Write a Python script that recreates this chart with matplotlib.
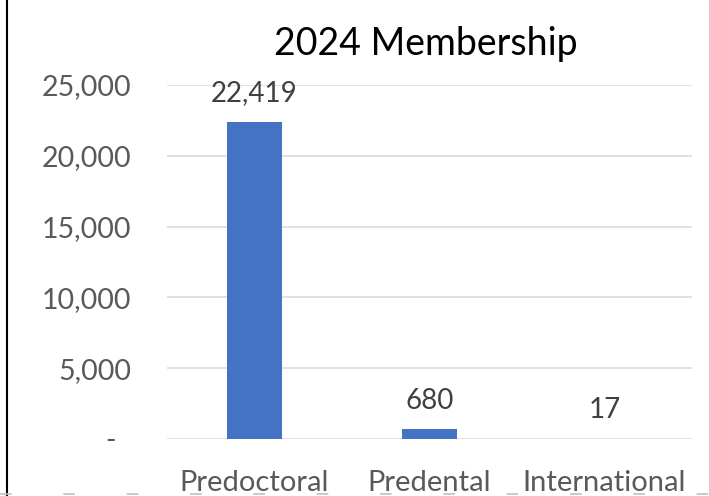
import matplotlib.pyplot as plt
from matplotlib.lines import Line2D
from matplotlib.ticker import FuncFormatter

categories = ["Predoctoral", "Predental", "International"]
members = [22419, 680, 17]
y_ticks = [0, 5000, 10000, 15000, 20000, 25000]

plt.rcParams["font.family"] = ["Lato", "DejaVu Sans"]


def fmt(v, pos):
    if v == 0:
        return "-  "
    return f"{int(v):,}"


def main():
    fig = plt.figure(figsize=(7.09, 4.96), dpi=100)
    ax = fig.add_axes([0.2355, 0.115, 0.7405, 0.7136])

    x = range(len(categories))
    ax.bar(x, members, width=0.31, color="#4472C4", zorder=3)

    for xi, v in zip(x, members):
        ax.annotate(f"{v:,}", (xi, v), xytext=(0, 11), textcoords="offset points",
                    ha="center", va="bottom", fontsize=20, color="#404040")

    ax.set_xlim(-0.5, 2.5)
    ax.set_ylim(0, 25000)
    ax.set_yticks(y_ticks)
    ax.yaxis.set_major_formatter(FuncFormatter(fmt))
    ax.set_xticks(list(x))
    ax.set_xticklabels(categories)
    ax.tick_params(axis="y", length=0, pad=26, labelsize=20.5, labelcolor="#595959")
    ax.tick_params(axis="x", length=0, pad=22, labelsize=21, labelcolor="#595959")
    ax.grid(axis="y", color="#D9D9D9", linewidth=1.1, zorder=0)
    for s in ax.spines.values():
        s.set_visible(False)

    fig.text(0.6, 0.912, "2024 Membership", ha="center", va="center",
             fontsize=27, color="#000000")

    # screenshot edges
    fig.add_artist(Line2D([0.0105, 0.0105], [0, 1], color="black", linewidth=1.5))
    fig.add_artist(Line2D([0, 1], [0.004, 0.004], color="#B8C2D0", linewidth=1.2,
                          linestyle=(0, (7, 31))))

    fig.savefig("out.png", dpi=100)


if __name__ == "__main__":
    main()
